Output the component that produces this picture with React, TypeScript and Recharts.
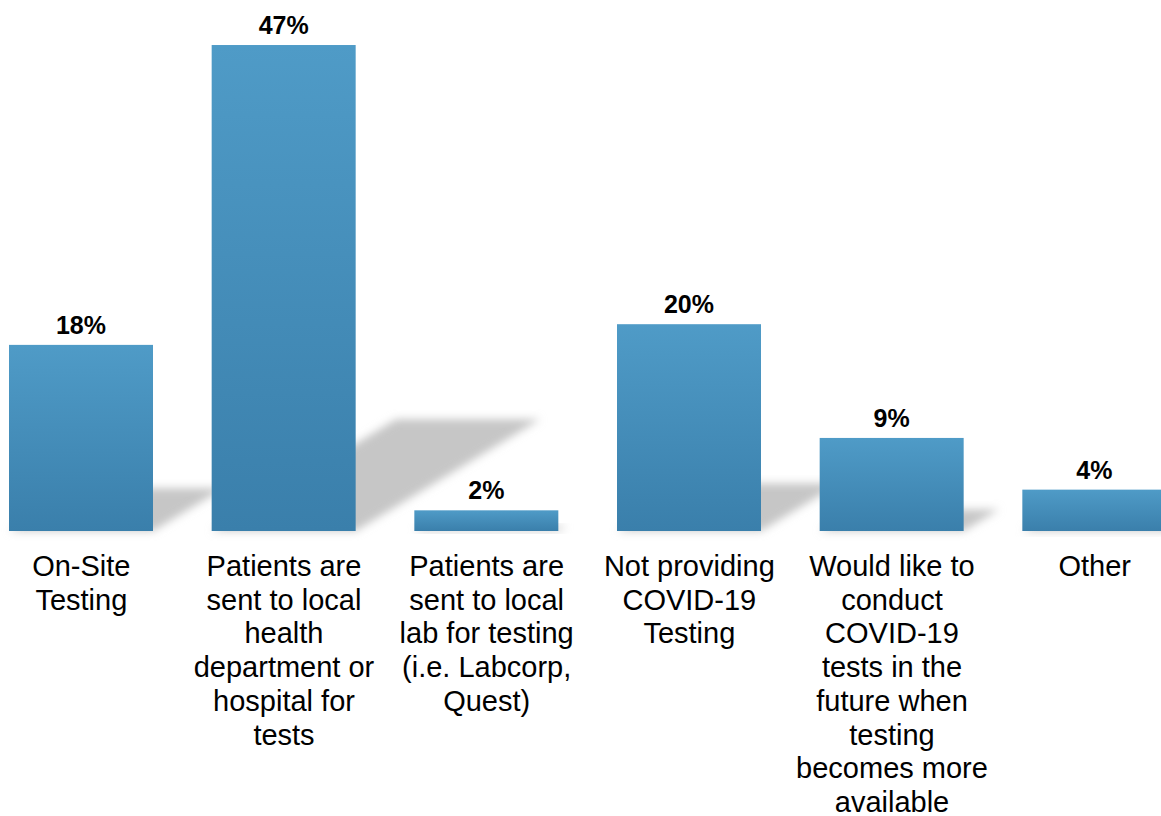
import React from "react";
import { BarChart, Bar, XAxis, YAxis, LabelList } from "recharts";

// category labels, already wrapped the way the slide shows them
const categoryLines: string[][] = [
  ["On-Site", "Testing"],
  ["Patients are", "sent to local", "health", "department or", "hospital for", "tests"],
  ["Patients are", "sent to local", "lab for testing", "(i.e. Labcorp,", "Quest)"],
  ["Not providing", "COVID-19", "Testing"],
  ["Would like to", "conduct", "COVID-19", "tests in the", "future when", "testing", "becomes more", "available"],
  ["Other"],
];

const shares = [18, 47, 2, 20, 9, 4];

const data = categoryLines.map((lines, i) => ({ name: lines.join(" "), value: shares[i] }));

const FONT = "'Liberation Sans', Arial, sans-serif";

function CategoryTick(props: any) {
  const { x, y, payload } = props;
  const row = data.findIndex((d) => d.name === payload.value);
  const lines = categoryLines[row] || [];
  return (
    <text x={x} y={y} textAnchor="middle" fontSize={29} fontFamily={FONT} fill="#000">
      {lines.map((l, i) => (
        <tspan key={i} x={x} dy={i === 0 ? 37 : 33.7}>
          {l}
        </tspan>
      ))}
    </text>
  );
}

// bar with a soft floor shadow thrown up and to the right
function ShadowBar(props: any) {
  const { x, y, width, height } = props;
  if (!height || height <= 0) return null;
  const base = y + height;
  const sh = height * 0.23;
  const dx = sh * 1.65;
  const pts = [
    [x, base],
    [x + width, base],
    [x + width + dx, base - sh],
    [x + dx, base - sh],
  ]
    .map((p) => p.join(","))
    .join(" ");
  return (
    <g>
      <polygon points={pts} fill="#c6c6c6" filter="url(#soft)" />
      <rect x={x} y={y} width={width} height={height} fill="url(#barFill)" />
    </g>
  );
}

export default function App() {
  return (
    <div style={{ position: "absolute", left: 0, top: 0, width: 1161, height: 816, overflow: "hidden", background: "#fff" }}>
      <div style={{ position: "absolute", left: -20, top: 0 }}>
        <BarChart width={1216} height={816} data={data} margin={{ top: 14, right: 0, left: 0, bottom: 0 }}>
          <defs>
            <linearGradient id="barFill" x1="0" y1="0" x2="0" y2="1">
              <stop offset="0%" stopColor="#4f9bc7" />
              <stop offset="100%" stopColor="#3a7fab" />
            </linearGradient>
            <filter id="soft" x="-30%" y="-60%" width="160%" height="220%">
              <feGaussianBlur stdDeviation="4" />
            </filter>
          </defs>
          <XAxis
            dataKey="name"
            height={285}
            axisLine={false}
            tickLine={false}
            interval={0}
            tick={<CategoryTick />}
          />
          <YAxis hide domain={[0, 50]} />
          <Bar dataKey="value" barSize={144} shape={<ShadowBar />} isAnimationActive={false}>
            <LabelList
              dataKey="value"
              position="top"
              offset={11}
              formatter={(v: any) => `${v}%`}
              fontSize={25}
              fontWeight="bold"
              fontFamily={FONT}
              fill="#000"
            />
          </Bar>
        </BarChart>
      </div>
    </div>
  );
}
